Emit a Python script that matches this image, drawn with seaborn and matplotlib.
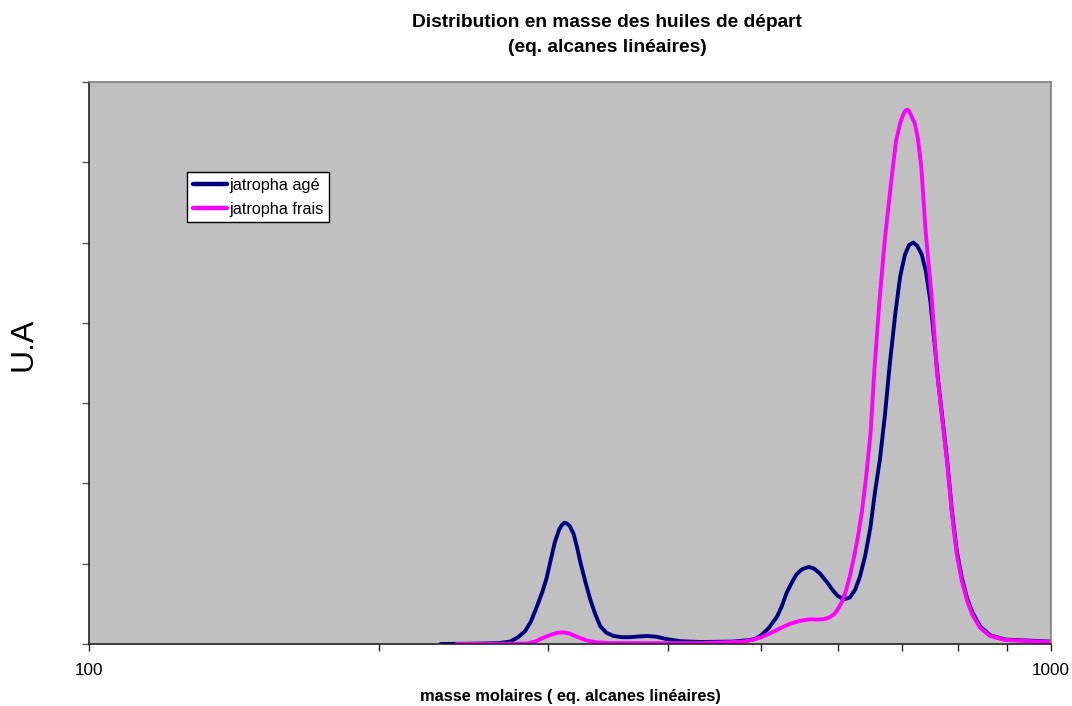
import numpy as np
import pandas as pd
import matplotlib
matplotlib.use("Agg")
import matplotlib.pyplot as plt
import seaborn as sns
from matplotlib.ticker import FixedLocator, NullFormatter, FixedFormatter

# ---- data ----
series_names = ["jatropha agé", "jatropha frais"]

mass_age = [232, 255, 267, 274, 279, 284, 288, 292, 296, 299, 302, 305, 308, 310, 312,
            314, 316, 319, 322, 324, 328, 332, 336, 340, 345, 351, 358, 365, 374, 381,
            389, 399, 412, 432, 467, 487, 494, 500, 509, 519, 525, 531, 538, 544, 551,
            560, 567, 575, 585, 594, 600, 609, 618, 626, 633, 641, 649, 656, 664, 672,
            680, 689, 697, 705, 712, 719, 726, 734, 741, 749, 756, 763, 770, 780, 789,
            798, 808, 818, 828, 844, 864, 896, 998]
ua_age = [0.0, 0.005, 0.012, 0.03, 0.08, 0.16, 0.28, 0.46, 0.65, 0.82, 1.05, 1.27, 1.42, 1.48, 1.51,
          1.50, 1.47, 1.37, 1.18, 1.03, 0.78, 0.55, 0.37, 0.22, 0.14, 0.10, 0.085, 0.085, 0.095, 0.10,
          0.09, 0.06, 0.035, 0.025, 0.03, 0.05, 0.07, 0.11, 0.20, 0.34, 0.47, 0.635, 0.77, 0.87, 0.93,
          0.96, 0.94, 0.88, 0.77, 0.66, 0.60, 0.555, 0.58, 0.68, 0.84, 1.10, 1.45, 1.88, 2.30, 2.85,
          3.50, 4.12, 4.58, 4.85, 4.97, 5.00, 4.96, 4.85, 4.65, 4.28, 3.80, 3.30, 2.88, 2.28, 1.65,
          1.16, 0.82, 0.57, 0.40, 0.22, 0.11, 0.055, 0.03]

mass_frais = [241, 267, 285, 291, 295, 299, 304, 307, 311, 316, 320, 324, 329, 337, 348,
              383, 432, 479, 489, 500, 512, 523, 535, 549, 562, 572, 581, 588, 595, 600,
              606, 612, 618, 624, 630, 636, 642, 649, 655, 663, 672, 682, 690, 697, 703,
              706, 709, 712, 715, 722, 727, 733, 741, 752, 761, 770, 780, 789, 798, 808,
              818, 828, 844, 864, 896, 998]
ua_frais = [0.0, 0.003, 0.005, 0.03, 0.065, 0.095, 0.125, 0.14, 0.145, 0.13, 0.10, 0.075, 0.045, 0.02, 0.012,
            0.01, 0.01, 0.03, 0.05, 0.085, 0.14, 0.196, 0.25, 0.29, 0.308, 0.305, 0.31, 0.33, 0.37, 0.43,
            0.52, 0.66, 0.85, 1.08, 1.34, 1.65, 2.05, 2.60, 3.38, 4.25, 5.05, 5.75, 6.26, 6.49, 6.61,
            6.645, 6.655, 6.64, 6.59, 6.48, 6.30, 5.95, 5.12, 4.28, 3.40, 2.85, 2.25, 1.62, 1.12, 0.78,
            0.54, 0.37, 0.20, 0.10, 0.05, 0.025]

x_tick_labels = ["100", "1000"]
title_text = "Distribution en masse des huiles de départ\n(eq. alcanes linéaires)"
xlabel_text = "masse molaires ( eq. alcanes linéaires)"
ylabel_text = "U.A"

df = pd.concat([
    pd.DataFrame({"masse": mass_age, "ua": ua_age, "serie": series_names[0]}),
    pd.DataFrame({"masse": mass_frais, "ua": ua_frais, "serie": series_names[1]}),
], ignore_index=True)

sns.set_style("white")
plt.rcParams["font.family"] = ["Liberation Sans", "DejaVu Sans"]
plt.rcParams["text.color"] = "black"
plt.rcParams["xtick.color"] = "black"
plt.rcParams["ytick.color"] = "black"

fig = plt.figure(figsize=(10.72, 7.06), dpi=100)
ax = fig.add_axes([89 / 1072, 1 - 644 / 706, 962 / 1072, 562 / 706])
ax.set_facecolor("#C0C0C0")

sns.lineplot(data=df, x="masse", y="ua", hue="serie", estimator=None, sort=True,
             palette={series_names[0]: "#000080", series_names[1]: "#FF00FF"},
             linewidth=2.8, ax=ax)
for ln in ax.get_lines():
    ln.set_solid_joinstyle("round")
    ln.set_solid_capstyle("round")

ax.set_xscale("log")
ax.set_xlim(100, 1000)
ax.set_ylim(0, 7)
ax.xaxis.set_major_locator(FixedLocator([100, 1000]))
ax.xaxis.set_major_formatter(FixedFormatter(x_tick_labels))
ax.xaxis.set_minor_locator(FixedLocator([200, 300, 400, 500, 600, 700, 800, 900]))
ax.xaxis.set_minor_formatter(NullFormatter())
ax.yaxis.set_major_locator(FixedLocator(list(range(0, 8))))
ax.yaxis.set_major_formatter(NullFormatter())
ax.tick_params(axis="x", which="both", direction="out", length=5, width=1, color="#222222",
               bottom=True, labelsize=12.3, pad=9, labelcolor="black")
ax.tick_params(axis="y", which="both", direction="out", length=5, width=1, color="#555555",
               left=True)

for s in ["left", "bottom"]:
    ax.spines[s].set_color("#222222")
    ax.spines[s].set_linewidth(1.2)
for s in ["top", "right"]:
    ax.spines[s].set_color("#808080")
    ax.spines[s].set_linewidth(1.2)

ax.set_xlabel("")
ax.set_ylabel("")

fig.text(607 / 1072, 1 - 35 / 706, title_text, ha="center", va="center",
         fontsize=13.8, fontweight="bold", linespacing=1.6, color="black")
fig.text(570 / 1072, 1 - 697 / 706, xlabel_text, ha="center", va="center",
         fontsize=11.8, fontweight="bold", color="black")
fig.text(23 / 1072, 1 - 344 / 706, ylabel_text, ha="center", va="center",
         fontsize=23, rotation=90, color="black")

leg = ax.legend(loc="upper left", bbox_to_anchor=((187 - 89) / 962, (644 - 172) / 562),
                bbox_transform=ax.transAxes, borderaxespad=0, frameon=True, fancybox=False,
                edgecolor="black", framealpha=1, facecolor="white", fontsize=11.7,
                handlelength=2.1, handletextpad=0.15, borderpad=0.35, labelspacing=0.55,
                title=None)
leg.get_frame().set_linewidth(1.0)
for line in leg.get_lines():
    line.set_linewidth(3.2)
for t in leg.get_texts():
    t.set_color("black")

fig.savefig("out.png", dpi=100)
